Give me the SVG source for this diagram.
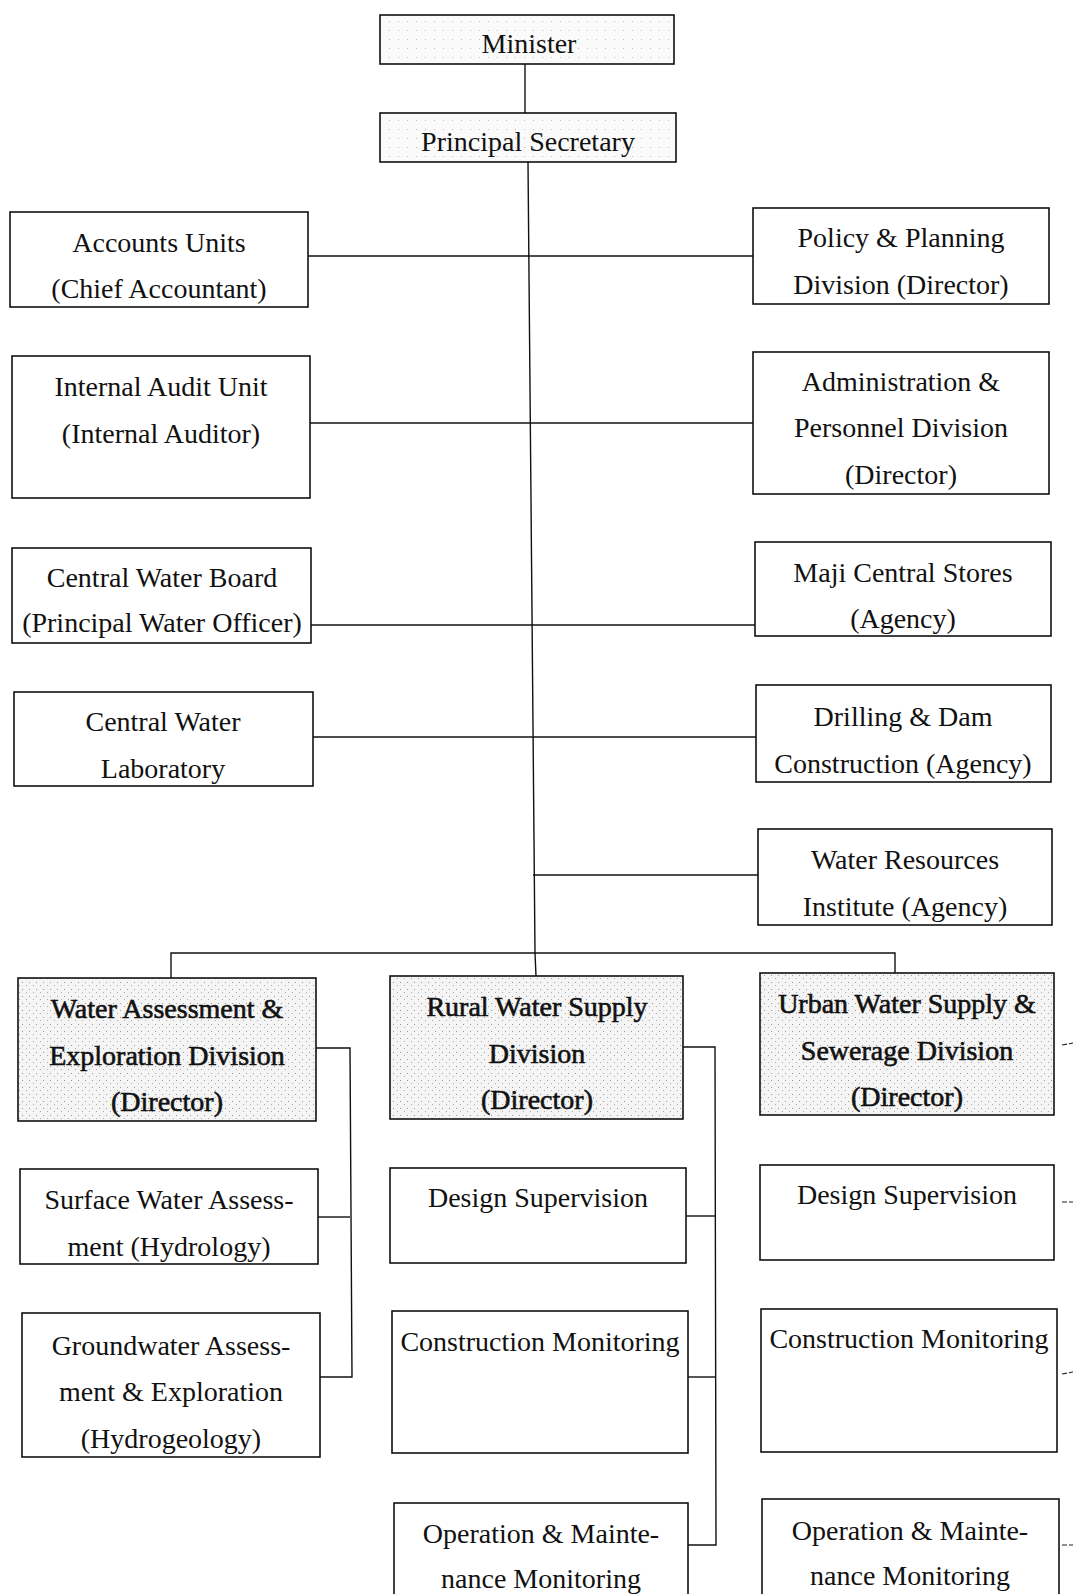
<svg xmlns="http://www.w3.org/2000/svg" width="1073" height="1594" viewBox="0 0 1073 1594">
<defs>
<pattern id="stip" width="7" height="7" patternUnits="userSpaceOnUse">
<rect width="7" height="7" fill="#f4f4f4"/>
<rect x="1" y="2" width="1" height="1" fill="#999"/>
<rect x="5" y="5" width="1" height="1" fill="#aaa"/>
</pattern>
<pattern id="stipl" width="9" height="9" patternUnits="userSpaceOnUse">
<rect width="9" height="9" fill="#fafafa"/>
<rect x="2" y="3" width="1" height="1" fill="#bbb"/>
</pattern>
</defs>
<style>
.b{fill:#fff;stroke:#111;stroke-width:1.6}
.s{fill:url(#stip);stroke:#111;stroke-width:1.6}
.sl{fill:url(#stipl);stroke:#111;stroke-width:1.6}
text{font-family:"Liberation Serif","Times New Roman",serif;font-size:28px;fill:#111;text-anchor:middle}
.d{stroke:#111;stroke-width:0.6}
.c{fill:none;stroke:#111;stroke-width:1.4}
.cd{fill:none;stroke:#222;stroke-width:1.2;stroke-dasharray:5 2}
</style>
<rect width="1073" height="1594" fill="#fff"/>
<g id="connectors">
<line class="c" x1="525" y1="64" x2="525" y2="113"/>
<polyline class="c" points="528,162 535,953 536,976"/>
<line class="c" x1="308" y1="256" x2="753" y2="256"/>
<line class="c" x1="310" y1="423" x2="753" y2="423"/>
<line class="c" x1="311" y1="625" x2="755" y2="625"/>
<line class="c" x1="313" y1="737" x2="756" y2="737"/>
<line class="c" x1="533" y1="875" x2="758" y2="875"/>
<polyline class="c" points="171,978 171,953 895,953 895,973"/>
<polyline class="c" points="316,1048 350,1048 352,1377 320,1377"/>
<line class="c" x1="318" y1="1217" x2="350" y2="1217"/>
<polyline class="c" points="683,1047 715,1047 716,1545 688,1545"/>
<line class="c" x1="686" y1="1216" x2="715" y2="1216"/>
<line class="c" x1="688" y1="1377" x2="716" y2="1377"/>
<line class="cd" x1="1062" y1="1045" x2="1073" y2="1043"/>
<line class="cd" x1="1062" y1="1202" x2="1073" y2="1202"/>
<line class="cd" x1="1062" y1="1374" x2="1073" y2="1372"/>
<line class="cd" x1="1062" y1="1545" x2="1073" y2="1545"/>
</g>
<g id="minister"><rect class="sl" x="380" y="15" width="294" height="49"/><text x="529" y="53">Minister</text></g>
<g id="principal-secretary"><rect class="sl" x="380" y="113" width="296" height="49"/><text x="528" y="151">Principal Secretary</text></g>
<g id="accounts"><rect class="b" x="10" y="212" width="298" height="95"/><text x="159" y="252">Accounts Units</text><text x="159" y="298">(Chief Accountant)</text></g>
<g id="policy"><rect class="b" x="753" y="208" width="296" height="96"/><text x="901" y="247">Policy &amp; Planning</text><text x="901" y="294">Division (Director)</text></g>
<g id="audit"><rect class="b" x="12" y="356" width="298" height="142"/><text x="161" y="396">Internal Audit Unit</text><text x="161" y="443">(Internal Auditor)</text></g>
<g id="admin"><rect class="b" x="753" y="352" width="296" height="142"/><text x="901" y="391">Administration &amp;</text><text x="901" y="437">Personnel Division</text><text x="901" y="484">(Director)</text></g>
<g id="cwb"><rect class="b" x="12" y="548" width="299" height="95"/><text x="162" y="587">Central Water Board</text><text x="162" y="632">(Principal Water Officer)</text></g>
<g id="maji"><rect class="b" x="755" y="542" width="296" height="94"/><text x="903" y="582">Maji Central Stores</text><text x="903" y="628">(Agency)</text></g>
<g id="cwl"><rect class="b" x="14" y="692" width="299" height="94"/><text x="163" y="731">Central Water</text><text x="163" y="778">Laboratory</text></g>
<g id="drilling"><rect class="b" x="756" y="685" width="295" height="97"/><text x="903" y="726">Drilling &amp; Dam</text><text x="903" y="773">Construction (Agency)</text></g>
<g id="wri"><rect class="b" x="758" y="829" width="294" height="96"/><text x="905" y="869">Water Resources</text><text x="905" y="916">Institute (Agency)</text></g>
<g id="water-assessment"><rect class="s" x="18" y="978" width="298" height="143"/><text class="d" x="167" y="1018">Water Assessment &amp;</text><text class="d" x="167" y="1065">Exploration Division</text><text class="d" x="167" y="1111">(Director)</text></g>
<g id="rural"><rect class="s" x="390" y="976" width="293" height="143"/><text class="d" x="537" y="1016">Rural Water Supply</text><text class="d" x="537" y="1063">Division</text><text class="d" x="537" y="1109">(Director)</text></g>
<g id="urban"><rect class="s" x="760" y="973" width="294" height="142"/><text class="d" x="907" y="1013">Urban Water Supply &amp;</text><text class="d" x="907" y="1060">Sewerage Division</text><text class="d" x="907" y="1106">(Director)</text></g>
<g id="surface"><rect class="b" x="20" y="1169" width="298" height="95"/><text x="169" y="1209">Surface Water Assess-</text><text x="169" y="1256">ment (Hydrology)</text></g>
<g id="rural-design"><rect class="b" x="390" y="1168" width="296" height="95"/><text x="538" y="1207">Design Supervision</text></g>
<g id="urban-design"><rect class="b" x="760" y="1165" width="294" height="95"/><text x="907" y="1204">Design Supervision</text></g>
<g id="groundwater"><rect class="b" x="22" y="1313" width="298" height="144"/><text x="171" y="1355">Groundwater Assess-</text><text x="171" y="1401">ment &amp; Exploration</text><text x="171" y="1448">(Hydrogeology)</text></g>
<g id="rural-construction"><rect class="b" x="392" y="1311" width="296" height="142"/><text x="540" y="1351">Construction Monitoring</text></g>
<g id="urban-construction"><rect class="b" x="761" y="1309" width="296" height="143"/><text x="909" y="1348">Construction Monitoring</text></g>
<g id="rural-om"><rect class="b" x="394" y="1503" width="294" height="110"/><text x="541" y="1543">Operation &amp; Mainte-</text><text x="541" y="1588">nance Monitoring</text></g>
<g id="urban-om"><rect class="b" x="762" y="1499" width="297" height="110"/><text x="910" y="1540">Operation &amp; Mainte-</text><text x="910" y="1585">nance Monitoring</text></g>
</svg>
